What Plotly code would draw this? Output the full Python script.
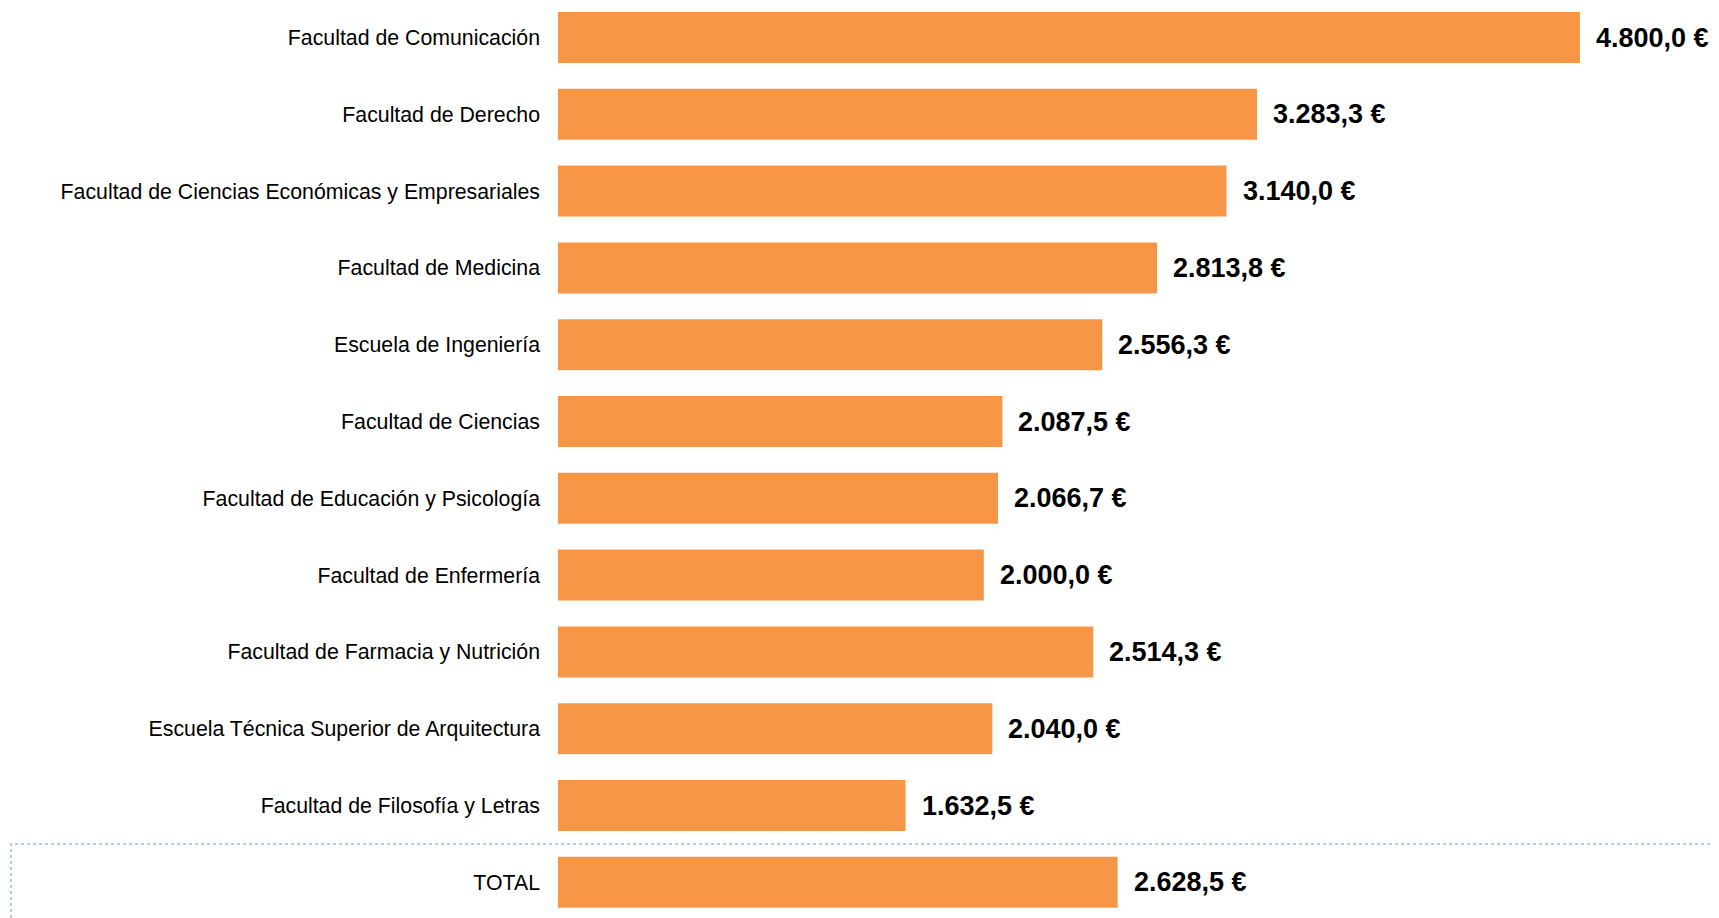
import plotly.graph_objects as go

categories = [
    "Facultad de Comunicación",
    "Facultad de Derecho",
    "Facultad de Ciencias Económicas y Empresariales",
    "Facultad de Medicina",
    "Escuela de Ingeniería",
    "Facultad de Ciencias",
    "Facultad de Educación y Psicología",
    "Facultad de Enfermería",
    "Facultad de Farmacia y Nutrición",
    "Escuela Técnica Superior de Arquitectura",
    "Facultad de Filosofía y Letras",
    "TOTAL",
]
values = [4800.0, 3283.3, 3140.0, 2813.8, 2556.3, 2087.5, 2066.7, 2000.0, 2514.3, 2040.0, 1632.5, 2628.5]

W, H = 1711, 910
L = 550
FONT = "Liberation Sans, Arial, sans-serif"


def fmt(v):
    s = f"{v:,.1f}"
    return s.replace(",", "X").replace(".", ",").replace("X", ".") + " €"


fig = go.Figure()
fig.add_trace(go.Bar(
    x=values, y=categories, orientation="h",
    marker=dict(color="#F79646", line=dict(width=0)),
    width=0.664,
    hoverinfo="skip",
))

for c, v in zip(categories, values):
    fig.add_annotation(
        x=v, y=c, xref="x", yref="y",
        text="<b>" + fmt(v) + "</b>",
        showarrow=False, xanchor="left", yanchor="middle", xshift=14,
        font=dict(family=FONT, size=27, color="#000000"),
    )

fig.add_shape(
    type="rect", xref="paper", yref="paper",
    x0=(3 - L) / (W - L), x1=1.05, y0=-0.1, y1=74 / H,
    line=dict(color="#8EC4CF", width=1.5, dash="dot"),
    fillcolor="rgba(0,0,0,0)",
)

fig.update_layout(
    width=W, height=H,
    margin=dict(l=L, r=0, t=0, b=0),
    plot_bgcolor="white", paper_bgcolor="white",
    showlegend=False,
    font=dict(family=FONT, color="#000000"),
)
fig.update_xaxes(range=[0, (W - L) / 0.2129], visible=False, showgrid=False, zeroline=False)
fig.update_yaxes(
    categoryorder="array", categoryarray=categories,
    range=[(H - 29.5) / 76.8, -29.5 / 76.8],
    showgrid=False, zeroline=False, showline=False, ticks="",
    ticklabelstandoff=17,
    tickfont=dict(family=FONT, size=21.3, color="#000000"),
)

fig.write_html("out.html")
